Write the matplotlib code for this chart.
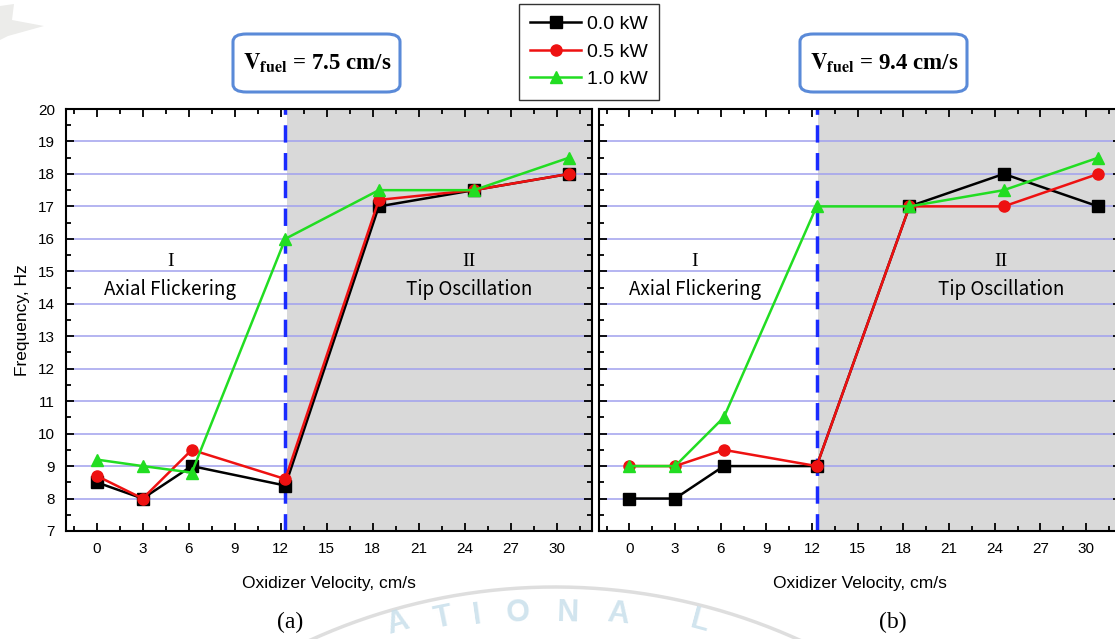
import numpy as np
import matplotlib.pyplot as plt
from matplotlib.patches import FancyBboxPatch, Polygon
from matplotlib.lines import Line2D
from matplotlib.ticker import MultipleLocator

plt.rcParams['font.family'] = ['Liberation Sans', 'DejaVu Sans']
plt.rcParams['mathtext.fontset'] = 'stix'

# oxidizer velocity (cm/s)
velocity = [0, 3.0, 6.2, 12.3, 18.4, 24.6, 30.8]
boundary = 12.3

powers = ["0.0 kW", "0.5 kW", "1.0 kW"]

# (a) V_fuel = 7.5 cm/s
freq_a_00 = [8.5, 8.0, 9.0, 8.4, 17.0, 17.5, 18.0]
freq_a_05 = [8.7, 8.0, 9.5, 8.6, 17.2, 17.5, 18.0]
freq_a_10 = [9.2, 9.0, 8.8, 16.0, 17.5, 17.5, 18.5]

# (b) V_fuel = 9.4 cm/s
freq_b_00 = [8.0, 8.0, 9.0, 9.0, 17.0, 18.0, 17.0]
freq_b_05 = [9.0, 9.0, 9.5, 9.0, 17.0, 17.0, 18.0]
freq_b_10 = [9.0, 9.0, 10.5, 17.0, 17.0, 17.5, 18.5]

fuel_speeds = ["7.5", "9.4"]
panel_tags = ["(a)", "(b)"]

colors = ["black", "#ee1111", "#22dd22"]
markers = ["s", "o", "^"]

W, H = 1115, 639
fig = plt.figure(figsize=(W / 100, H / 100), dpi=100)


def fx(x):
    return x / W


def fy(y):
    return 1 - y / H


ax_a = fig.add_axes([fx(66), fy(531), fx(526), (531 - 109) / H])
ax_b = fig.add_axes([fx(599), fy(531), fx(522), (531 - 109) / H])

data = [(freq_a_00, freq_a_05, freq_a_10), (freq_b_00, freq_b_05, freq_b_10)]
label_pos = [(4.8, 24.3), (4.3, 24.4)]
kr = ["Noto Sans CJK KR", "DejaVu Sans"]
serif = ["Liberation Serif", "DejaVu Serif"]

handles = []
for k, ax in enumerate([ax_a, ax_b]):
    ax.set_xlim(-2, 32.3)
    ax.set_ylim(7, 20)
    ax.axvspan(boundary + 0.1, 40, color="#d9d9d9", zorder=0, lw=0)
    for yv in range(8, 20):
        ax.axhline(yv, color="#a0a0ee", lw=1.1, zorder=1)
    ax.axvline(boundary, color="#1a2bff", lw=2.5, ls=(0, (5, 3)), zorder=2)

    for i, series in enumerate(data[k]):
        h, = ax.plot(velocity, series, color=colors[i], marker=markers[i],
                     markersize=8, lw=1.8, zorder=3 + i, label=powers[i])
        if k == 0:
            handles.append(h)

    ax.xaxis.set_major_locator(MultipleLocator(3))
    ax.xaxis.set_minor_locator(MultipleLocator(1.5))
    ax.yaxis.set_major_locator(MultipleLocator(1))
    ax.yaxis.set_minor_locator(MultipleLocator(0.5))
    ax.tick_params(which="both", direction="in", top=True, right=True,
                   width=1.3, labelsize=11, pad=8)
    ax.tick_params(which="major", length=6)
    ax.tick_params(which="minor", length=3.5)
    for sp in ax.spines.values():
        sp.set_linewidth(1.5)
    ax.set_xlabel("Oxidizer Velocity, cm/s", fontsize=12.5, labelpad=14)

    xi, xii = label_pos[k]
    ax.text(xi, 15.3, "I", ha="center", va="center", fontsize=14, family=serif)
    ax.text(xi, 14.45, "Axial Flickering", ha="center", va="center", fontsize=13.5, family=kr)
    ax.text(xii, 15.3, "II", ha="center", va="center", fontsize=14, family=serif)
    ax.text(xii, 14.45, "Tip Oscillation", ha="center", va="center", fontsize=13.5, family=kr)

ax_a.set_ylabel("Frequency, Hz", fontsize=12.5, labelpad=6)
ax_b.tick_params(labelleft=False)

# panel tags under the axes
for x, tag in zip([290, 893], panel_tags):
    fig.text(fx(x), fy(622), tag, ha="center", va="center", fontsize=17, family=serif)

# fuel velocity callouts
for x0, v in zip([233, 800], fuel_speeds):
    box = FancyBboxPatch((fx(x0), fy(92)), fx(167), (92 - 34) / H,
                         boxstyle="round,pad=0,rounding_size=0.012",
                         transform=fig.transFigure, fc="white", ec="#5a8ad8", lw=2.2)
    fig.add_artist(box)
    fig.text(fx(x0 + 84), fy(63),
             r"$\mathbf{V}_{\mathbf{fuel}}$" + f" = {v} cm/s",
             ha="center", va="center", fontsize=16.5, fontweight="bold", family=serif)

leg = fig.legend(handles=handles, loc="upper center", bbox_to_anchor=(fx(589), fy(4)),
                 fontsize=14, frameon=True, fancybox=False, edgecolor="black",
                 handlelength=2.6, handletextpad=0.3, borderpad=0.6, labelspacing=0.5,
                 borderaxespad=0)
leg.get_frame().set_linewidth(1.0)

# faint library watermark: arc and lettering at the bottom
cx, cy, r = 555, 1177, 590
t = np.linspace(-0.43, 0.43, 200)
fig.add_artist(Line2D(fx(cx + r * np.sin(t)), fy(cy - r * np.cos(t)),
                      transform=fig.transFigure, color="#d6d6d6", lw=2.5, alpha=0.8))
r_row = 1200
for ch, x in zip("ATIONAL", [398, 443, 477, 518, 568, 618, 700]):
    tilt = np.arcsin((x - cx) / 560)
    y = 613 + r_row * (1 - np.cos(np.arcsin((x - cx) / r_row)))
    fig.text(fx(x), fy(y), ch, ha="center", va="center", fontsize=22,
             fontweight="bold", color="#c6deea", alpha=0.8,
             rotation=-np.degrees(tilt))

# light grey corner mark at the top left
fig.add_artist(Polygon([[fx(0), fy(6)], [fx(14), fy(4)], [fx(12), fy(20)],
                        [fx(44), fy(26)], [fx(8), fy(36)], [fx(0), fy(40)]],
                       closed=True, transform=fig.transFigure,
                       fc="#ececea", ec="none"))

fig.savefig("out.png", dpi=100)
